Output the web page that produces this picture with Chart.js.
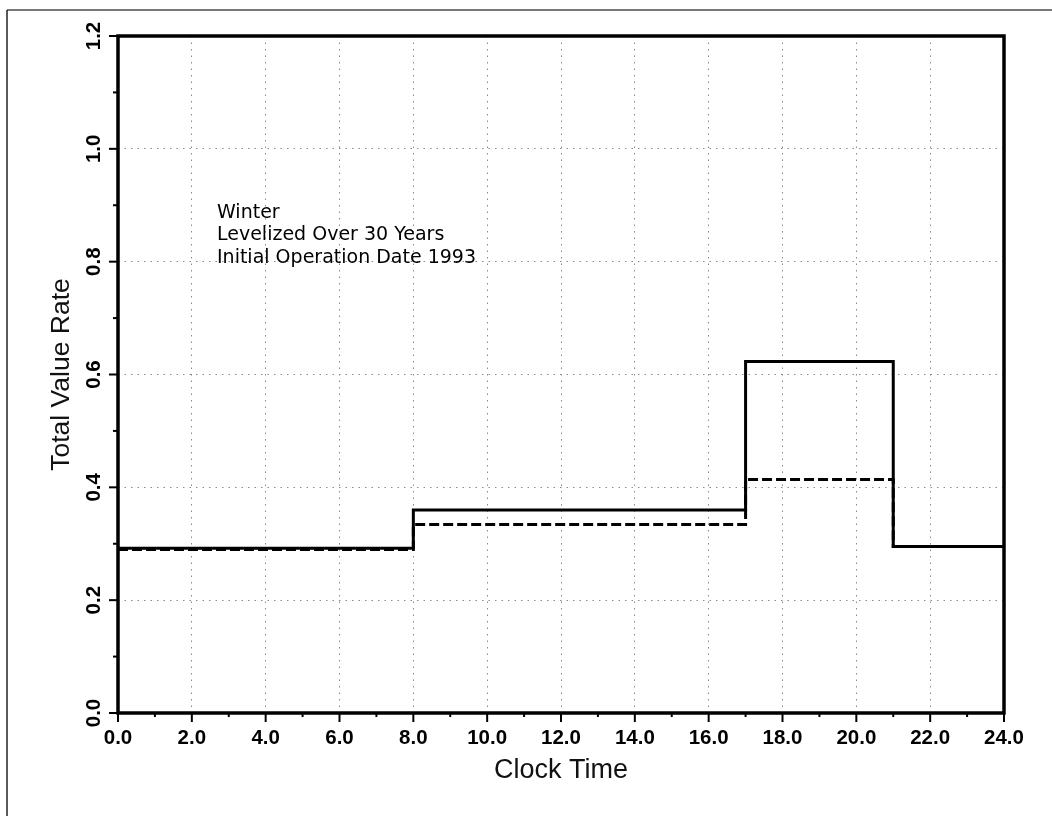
<!DOCTYPE html>
<html>
<head>
<meta charset="utf-8">
<script src="https://cdn.jsdelivr.net/npm/chart.js@4.4.1/dist/chart.umd.min.js"></script>
<style>
  html, body { margin: 0; padding: 0; background: #fff; }
  canvas { display: block; }
</style>
</head>
<body>
<canvas id="c" width="1052" height="816"></canvas>
<script>
// ---- data ----
const clockTime = [0, 8, 17, 21, 24];
const totalValueSolid = [0.292, 0.360, 0.623, 0.295, 0.295];
const totalValueDashed = [0.290, 0.334, 0.414, 0.295, 0.295];
const xTickValues = [0, 2, 4, 6, 8, 10, 12, 14, 16, 18, 20, 22, 24];
const yTickValues = [0, 0.2, 0.4, 0.6, 0.8, 1.0, 1.2];
const annotationLines = ['Winter', 'Levelized Over 30 Years', 'Initial Operation Date 1993'];

const TICK_FONT = 'bold 20.5px "Liberation Sans", Arial, sans-serif';

const framePlugin = {
  id: 'frame',
  beforeDraw(chart) {
    const ctx = chart.ctx;
    ctx.save();
    ctx.fillStyle = '#fff';
    ctx.fillRect(0, 0, chart.width, chart.height);
    // page border lines
    ctx.strokeStyle = '#777';
    ctx.lineWidth = 2;
    ctx.beginPath(); ctx.moveTo(7, 10); ctx.lineTo(chart.width, 10); ctx.stroke();
    ctx.strokeStyle = '#222';
    ctx.lineWidth = 1.5;
    ctx.beginPath(); ctx.moveTo(7, 10); ctx.lineTo(7, chart.height); ctx.stroke();
    ctx.restore();
  },
  afterDatasetsDraw(chart) {
    const ctx = chart.ctx;
    const a = chart.chartArea;
    const xs = chart.scales.x, ys = chart.scales.y;
    ctx.save();
    ctx.strokeStyle = '#000';
    ctx.lineWidth = 3.5;
    ctx.strokeRect(a.left, a.top, a.right - a.left, a.bottom - a.top);
    // tick marks (major and minor)
    ctx.lineWidth = 2;
    for (let v = xs.min; v <= xs.max; v += 1) {
      const px = xs.getPixelForValue(v);
      const len = (v % 2 === 0) ? 9 : 4;
      ctx.beginPath(); ctx.moveTo(px, a.bottom); ctx.lineTo(px, a.bottom + len); ctx.stroke();
    }
    for (let i = 0; i <= 12; i++) {
      const v = i * 0.1;
      const py = ys.getPixelForValue(v);
      const len = (i % 2 === 0) ? 9 : 5;
      ctx.beginPath(); ctx.moveTo(a.left, py); ctx.lineTo(a.left - len, py); ctx.stroke();
    }
    // rotated y tick labels
    ctx.fillStyle = '#000';
    ctx.font = TICK_FONT;
    ctx.textAlign = 'center';
    ctx.textBaseline = 'alphabetic';
    yTickValues.forEach(v => {
      const py = ys.getPixelForValue(v);
      ctx.save();
      ctx.translate(a.left - 18, py);
      ctx.rotate(-Math.PI / 2);
      ctx.fillText(v.toFixed(1), 0, 0);
      ctx.restore();
    });
    // annotation text
    ctx.font = '19px "DejaVu Sans", sans-serif';
    ctx.textAlign = 'left';
    ctx.fillStyle = '#000';
    annotationLines.forEach((t, i) => {
      ctx.fillText(t, 217, 218 + i * 22.3);
    });
    ctx.restore();
  }
};

new Chart(document.getElementById('c'), {
  type: 'line',
  data: {
    datasets: [
      {
        label: 'Total value rate',
        data: clockTime.map((x, i) => ({ x, y: totalValueSolid[i] })),
        stepped: 'before',
        borderColor: '#000',
        borderWidth: 3,
        pointRadius: 0,
        fill: false
      },
      {
        label: 'Total value rate (dashed)',
        data: clockTime.map((x, i) => ({ x, y: totalValueDashed[i] })),
        stepped: 'before',
        borderColor: '#000',
        borderWidth: 3,
        borderDash: [10, 4],
        pointRadius: 0,
        fill: false
      }
    ]
  },
  options: {
    responsive: false,
    devicePixelRatio: 1,
    animation: false,
    layout: { padding: { top: 36, right: 48, left: 0, bottom: 0 } },
    plugins: { legend: { display: false }, tooltip: { enabled: false } },
    scales: {
      x: {
        type: 'linear',
        min: 0, max: 24,
        afterFit(s) { s.height = 103; },
        afterBuildTicks(s) { s.ticks = xTickValues.map(v => ({ value: v })); },
        ticks: {
          font: { family: '"Liberation Sans", Arial, sans-serif', size: 20.5, weight: 'bold' },
          color: '#000',
          padding: 13,
          maxRotation: 0,
          autoSkip: false,
          callback: v => Number(v).toFixed(1)
        },
        grid: { color: '#8a8a8a', lineWidth: 1, drawTicks: false },
        border: { display: false, dash: [1.5, 5] },
        title: {
          display: true,
          text: 'Clock Time',
          color: '#111',
          font: { family: '"Liberation Sans", Arial, sans-serif', size: 27 },
          padding: { top: 0, bottom: 29 }
        }
      },
      y: {
        type: 'linear',
        min: 0, max: 1.2,
        afterFit(s) { s.width = 118; },
        afterBuildTicks(s) { s.ticks = yTickValues.map(v => ({ value: v })); },
        ticks: { display: false },
        grid: { color: '#8a8a8a', lineWidth: 1, drawTicks: false },
        border: { display: false, dash: [1.5, 5] },
        title: {
          display: true,
          text: 'Total Value Rate',
          color: '#111',
          font: { family: '"Liberation Sans", Arial, sans-serif', size: 26.5 },
          padding: { top: 46, bottom: 0 }
        }
      }
    }
  },
  plugins: [framePlugin]
});
</script>
</body>
</html>
